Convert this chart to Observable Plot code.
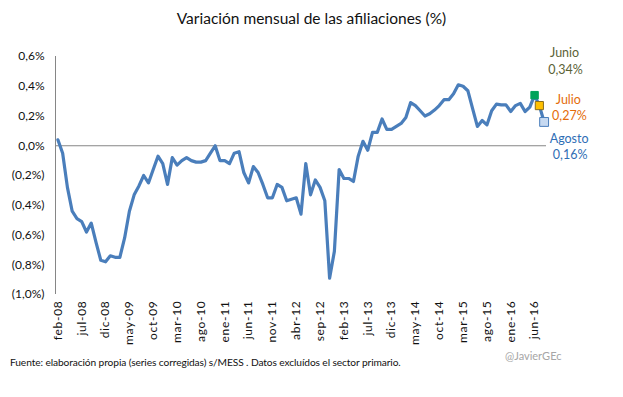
<!DOCTYPE html>
<html>
<head>
<meta charset="utf-8">
<script src="https://cdn.jsdelivr.net/npm/d3@7"></script>
<script src="https://cdn.jsdelivr.net/npm/@observablehq/plot@0.6"></script>
<style>
  body { margin: 0; background: #fff; font-family: Lato, "Noto Sans", sans-serif; }
  #wrap { position: relative; width: 623px; height: 397px; }
  .abs { position: absolute; white-space: nowrap; line-height: 1; }
  g[aria-label="x-axis tick label"] text { letter-spacing: 0.7px; }
</style>
</head>
<body>
<div id="wrap">
  <div id="chart"></div>
  <div class="abs" style="left:0;width:623px;top:11px;text-align:center;font-size:15.5px;color:#111;">Variación mensual de las afiliaciones (%)</div>
  <div class="abs" style="left:10px;top:357px;font-size:10.2px;color:#111;letter-spacing:-0.1px;">Fuente: elaboración propia (series corregidas) s/MESS . Datos excluídos el sector primario.</div>
  <div class="abs" style="left:505px;top:350px;font-size:11px;color:#a6a6a6;">@JavierGEc</div>
</div>
<script>
// Monthly change in affiliations (%), feb-08 .. ago-16 (index 0..102)
const values = [
  0.04, -0.05, -0.28, -0.44, -0.49, -0.51, -0.58, -0.52, -0.65, -0.77,
  -0.78, -0.74, -0.75, -0.75, -0.62, -0.44, -0.33, -0.27, -0.20, -0.25,
  -0.16, -0.07, -0.12, -0.26, -0.08, -0.13, -0.10, -0.08, -0.10, -0.11,
  -0.11, -0.10, -0.05, 0.00, -0.10, -0.10, -0.12, -0.05, -0.04, -0.18,
  -0.25, -0.14, -0.18, -0.26, -0.35, -0.35, -0.26, -0.28, -0.37, -0.36,
  -0.35, -0.46, -0.12, -0.33, -0.23, -0.28, -0.37, -0.89, -0.71, -0.16,
  -0.22, -0.22, -0.24, -0.07, 0.03, -0.03, 0.09, 0.09, 0.18, 0.11,
  0.11, 0.13, 0.15, 0.19, 0.29, 0.27, 0.235, 0.20, 0.215, 0.24,
  0.27, 0.31, 0.31, 0.35, 0.41, 0.40, 0.37, 0.25, 0.13, 0.17,
  0.14, 0.235, 0.28, 0.275, 0.275, 0.23, 0.27, 0.285, 0.23, 0.26,
  0.34, 0.27, 0.16
];
const tickLabels = ["feb-08","jul-08","dic-08","may-09","oct-09","mar-10","ago-10","ene-11","jun-11","nov-11","abr-12","sep-12","feb-13","jul-13","dic-13","may-14","oct-14","mar-15","ago-15","ene-16","jun-16"];
const tickIndex = [0,5,10,15,20,25,30,35,40,45,50,55,60,65,70,75,80,85,90,95,100];
const yTicks = [-1.0,-0.8,-0.6,-0.4,-0.2,0,0.2,0.4,0.6];
const highlightNames = ["Junio","Julio","Agosto"];
const highlightLabels = ["0,34%","0,27%","0,16%"];
const highlightIndex = [100,101,102];

const data = values.map((v, i) => ({i, v}));
const hl = highlightIndex.map((idx, k) => ({i: idx, v: values[idx], name: highlightNames[k], label: highlightLabels[k], k}));

const fmtY = v => {
  const s = Math.abs(v).toFixed(1).replace(".", ",") + "%";
  return v < -1e-9 ? "(" + s + ")" : s;
};

const blue = "#4a7ebb";
const textColors = ["#5b6236", "#e46c0a", "#2f6eb5"];
const fills = ["#00a35a", "#ffc000", "#c6d9f1"];
const strokes = ["#00a35a", "#8a6d1c", "#4a7ebb"];
const rs = [4.2, 4.6, 5.0];
const dxs = [30, 29, 25];
const dy1 = [-42, -6, 17];
const dy2 = [-25, 10, 33];

const chart = Plot.plot({
  width: 623,
  height: 397,
  marginTop: 56,
  marginBottom: 103,
  marginLeft: 55,
  marginRight: 77,
  style: {fontFamily: "Lato, 'Noto Sans', sans-serif", color: "#111", background: "transparent", overflow: "visible"},
  x: {type: "linear", domain: [-0.5, 102.5]},
  y: {domain: [-1.0, 0.6]},
  marks: [
    Plot.axisX({ticks: tickIndex, tickFormat: i => tickLabels[tickIndex.indexOf(i)], tickRotate: -90, tickSize: 0, tickPadding: 6, fontSize: 12, label: null}),
    Plot.axisY({ticks: yTicks, tickFormat: fmtY, tickSize: 0, tickPadding: 11, fontSize: 12, label: null}),
    Plot.ruleX([-0.5], {y1: -1.0, y2: 0.6, stroke: "#868686", strokeWidth: 1}),
    Plot.ruleY([0], {stroke: "#868686", strokeWidth: 1}),
    Plot.line(data, {x: "i", y: "v", stroke: blue, strokeWidth: 3.2, strokeLinejoin: "round", strokeLinecap: "round"}),
    ...hl.map((d, k) => Plot.dot([d], {x: "i", y: "v", symbol: "square", r: rs[k], fill: fills[k], stroke: strokes[k], strokeWidth: 1})),
    ...hl.map((d, k) => Plot.text([d], {x: "i", y: "v", text: "name", dx: dxs[k], dy: dy1[k], fill: textColors[k], fontSize: 12.5})),
    ...hl.map((d, k) => Plot.text([d], {x: "i", y: "v", text: "label", dx: dxs[k] + 1, dy: dy2[k], fill: textColors[k], fontSize: 12.5}))
  ]
});
document.getElementById("chart").appendChild(chart);
</script>
</body>
</html>
